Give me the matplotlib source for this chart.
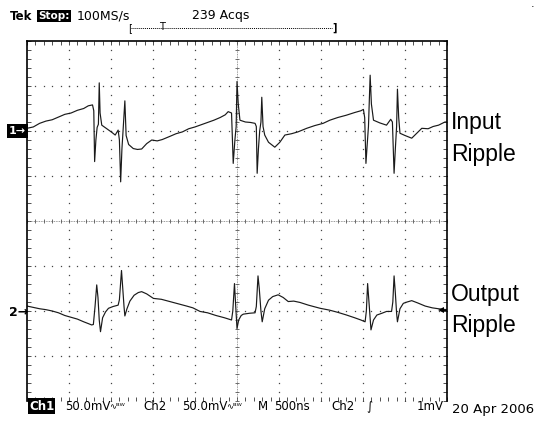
"""
Tek scope capture: input and output ripple, redrawn with matplotlib.
"""

import matplotlib
matplotlib.use("Agg")
import matplotlib.pyplot as plt
from matplotlib import font_manager
from matplotlib.lines import Line2D
import numpy as np


W_PX, H_PX = 537, 421

# screen is 10 x 8 divisions, ch1 ground at +2 div, ch2 ground at -2 div
CH1_OFFSET = 2.0
CH2_OFFSET = -2.0
TRIG_LEVEL = 0.02

# channel 1 (input ripple), time in div, level in div relative to ground
CH1_T = [0.00, 0.15, 0.30, 0.45, 0.60, 0.75, 0.90, 1.05, 1.20, 1.35,
         1.46, 1.56, 1.59, 1.61, 1.64, 1.67, 1.70, 1.72, 1.74, 1.78,
         1.90, 2.02, 2.10, 2.17, 2.20, 2.23, 2.26, 2.29, 2.33, 2.36,
         2.42, 2.53, 2.63, 2.73, 2.85, 2.97, 3.10, 3.22, 3.40, 3.55,
         3.70, 3.85, 4.00, 4.15, 4.30, 4.45, 4.60, 4.72, 4.79, 4.87,
         4.91, 4.95, 4.98, 5.00, 5.03, 5.07, 5.20, 5.32, 5.43, 5.46,
         5.48, 5.51, 5.54, 5.57, 5.59, 5.62, 5.66, 5.75, 5.90, 6.02,
         6.14, 6.30, 6.45, 6.66, 6.85, 7.05, 7.21, 7.40, 7.60, 7.80,
         7.95, 8.01, 8.04, 8.07, 8.10, 8.13, 8.17, 8.20, 8.25, 8.40,
         8.56, 8.66, 8.70, 8.74, 8.77, 8.80, 8.82, 8.85, 8.88, 9.00,
         9.16, 9.28, 9.40, 9.55, 9.67, 9.80, 9.95, 10.0]
CH1_V = [0.06, 0.09, 0.17, 0.22, 0.25, 0.31, 0.37, 0.40, 0.46, 0.50,
         0.56, 0.58, 0.45, -0.68, -0.20, 0.08, 0.15, 1.07, 0.40, 0.13,
         0.05, -0.03, -0.09, 0.02, -0.20, -1.13, -0.40, 0.05, 0.67, -0.10,
         -0.30, -0.39, -0.41, -0.40, -0.28, -0.20, -0.22, -0.19, -0.12, -0.06,
         -0.02, 0.05, 0.09, 0.14, 0.19, 0.24, 0.30, 0.36, 0.43, 0.40,
         -0.72, -0.20, 0.10, 1.10, 0.60, 0.24, 0.20, 0.19, 0.17, 0.10,
         -0.94, -0.40, 0.00, 0.20, 0.75, 0.10, -0.09, -0.25, -0.36, -0.25,
         -0.09, -0.06, -0.02, 0.06, 0.12, 0.17, 0.24, 0.30, 0.35, 0.41,
         0.45, 0.48, 0.30, -0.72, -0.30, 0.10, 1.24, 0.60, 0.24, 0.18,
         0.13, 0.26, 0.20, -0.94, -0.40, 0.10, 0.93, 0.30, -0.05, -0.10,
         -0.16, -0.05, 0.06, 0.05, 0.10, 0.13, 0.20, 0.20]

# channel 2 (output ripple)
CH2_T = [0.00, 0.15, 0.30, 0.45, 0.60, 0.75, 0.90, 1.05, 1.20, 1.35,
         1.46, 1.54, 1.58, 1.62, 1.66, 1.69, 1.72, 1.75, 1.80, 1.87,
         1.94, 2.05, 2.17, 2.20, 2.25, 2.28, 2.31, 2.33, 2.38, 2.45,
         2.55, 2.65, 2.73, 2.85, 3.01, 3.20, 3.40, 3.60, 3.80, 3.95,
         4.12, 4.30, 4.50, 4.70, 4.87, 4.90, 4.94, 4.97, 5.00, 5.04,
         5.10, 5.15, 5.30, 5.43, 5.46, 5.50, 5.53, 5.57, 5.60, 5.66,
         5.75, 5.85, 5.98, 6.10, 6.22, 6.35, 6.50, 6.70, 6.98, 7.20,
         7.40, 7.61, 7.80, 7.95, 8.05, 8.08, 8.11, 8.15, 8.19, 8.25,
         8.33, 8.45, 8.56, 8.68, 8.71, 8.74, 8.77, 8.80, 8.82, 8.88,
         8.96, 9.05, 9.16, 9.30, 9.48, 9.65, 9.87, 10.0]
CH2_V = [0.11, 0.08, 0.05, 0.03, 0.00, -0.04, -0.10, -0.14, -0.18, -0.24,
         -0.28, -0.31, -0.30, 0.10, 0.58, 0.30, -0.20, -0.46, -0.15, -0.02,
         0.06, 0.10, 0.13, 0.25, 0.90, 0.50, 0.10, -0.11, 0.05, 0.22,
         0.35, 0.41, 0.43, 0.38, 0.28, 0.26, 0.21, 0.16, 0.11, 0.07,
         -0.01, -0.04, -0.10, -0.15, -0.20, 0.00, 0.61, 0.10, -0.39, -0.20,
         -0.10, -0.07, -0.05, -0.04, 0.10, 0.78, 0.50, 0.00, -0.24, 0.05,
         0.24, 0.32, 0.36, 0.30, 0.21, 0.22, 0.19, 0.13, 0.06, 0.02,
         -0.03, -0.09, -0.15, -0.20, -0.24, 0.00, 0.61, 0.10, -0.42, -0.20,
         -0.09, -0.05, -0.01, -0.01, 0.20, 0.78, 0.40, -0.05, -0.24, 0.05,
         0.17, 0.20, 0.23, 0.18, 0.11, 0.07, 0.04, 0.03]

TOP_TEXT = ["Tek", "Stop:", "100MS/s", "239 Acqs"]
BOTTOM_TEXT = ["Ch1", "50.0mV", "Ch2", "50.0mV", "M", "500ns", "Ch2", "1mV"]
DATE_TEXT = "20 Apr 2006"
LABELS = [("Input", "Ripple"), ("Output", "Ripple")]


def fx(x):
    return x / W_PX


def fy(y):
    return 1 - y / H_PX


def pick_label_font():
    names = {f.name for f in font_manager.fontManager.ttflist}
    if "Liberation Sans Narrow" in names:
        return "Liberation Sans Narrow", 18
    return "Liberation Sans", 16.5


def draw_grid(ax):
    dot_y = np.arange(-4, 4.01, 0.2)
    dot_x = np.arange(0, 10.01, 0.2)
    for gx in range(1, 10):
        if gx == 5:
            continue
        ax.plot([gx] * len(dot_y), dot_y, ls="none", marker="s", ms=0.9,
                mew=0, color="#444444")
    for gy in range(-3, 4):
        if gy == 0:
            continue
        ax.plot(dot_x, [gy] * len(dot_x), ls="none", marker="s", ms=0.9,
                mew=0, color="#444444")

    # center lines with small ticks
    ax.plot([0, 10], [0, 0], ls=(0, (1, 1)), lw=0.6, color="#777777")
    ax.plot([5, 5], [-4, 4], ls=(0, (1, 1)), lw=0.6, color="#777777")
    ax.plot(dot_x, [0] * len(dot_x), ls="none", marker="|", ms=3.5,
            mew=0.6, color="#555555")
    ax.plot([5] * len(dot_y), dot_y, ls="none", marker="_", ms=3.5,
            mew=0.6, color="#555555")


def main():
    font_name, font_size = pick_label_font()

    fig = plt.figure(figsize=(W_PX / 100, H_PX / 100), dpi=100)
    ax = fig.add_axes([fx(27), 1 - 401 / H_PX, 420 / W_PX, 360 / H_PX])
    ax.set_xlim(0, 10)
    ax.set_ylim(-4, 4)

    draw_grid(ax)

    ch1 = np.array(CH1_V) + CH1_OFFSET
    ch2 = np.array(CH2_V) + CH2_OFFSET
    ax.plot(CH1_T, ch1, color="#1a1a1a", lw=0.85)
    ax.plot(CH2_T, ch2, color="#1a1a1a", lw=0.85)

    # trigger level marker on the right edge
    ax.plot([9.86], [CH2_OFFSET + TRIG_LEVEL], marker="<", ms=5,
            color="black", mew=0)
    ax.plot([9.86, 10], [CH2_OFFSET + TRIG_LEVEL] * 2, color="black", lw=1)

    ax.set_xticks(np.arange(0, 10.01, 1))
    ax.set_xticks(np.arange(0, 10.01, 0.2), minor=True)
    ax.set_yticks(np.arange(-4, 4.01, 1))
    ax.set_yticks(np.arange(-4, 4.01, 0.2), minor=True)
    ax.tick_params(which="both", direction="in", length=3, width=0.6,
                   top=True, right=True, labelbottom=False, labelleft=False,
                   color="#333333")
    for side in ["left", "right", "top"]:
        ax.spines[side].set_linewidth(1.2)
    ax.spines["bottom"].set_visible(False)

    # header line
    mono = "DejaVu Sans"
    fig.text(fx(10), fy(16), TOP_TEXT[0], fontsize=8.5, fontweight="bold",
             family=mono, va="center")
    fig.text(fx(38), fy(16), TOP_TEXT[1], fontsize=7.5, fontweight="bold",
             family=mono, va="center", color="white",
             bbox=dict(boxstyle="square,pad=0.12", fc="black", ec="none"))
    fig.text(fx(77), fy(16), TOP_TEXT[2], fontsize=9, family=mono, va="center")
    fig.text(fx(192), fy(16), TOP_TEXT[3], fontsize=9, family=mono,
             va="center")

    # record bracket with trigger position
    fig.add_artist(Line2D([fx(131), fx(332)], [fy(28), fy(28)],
                          ls=(0, (1, 1)), lw=0.7, color="black"))
    fig.text(fx(128), fy(28), "[", fontsize=7, family=mono, va="center")
    fig.text(fx(332), fy(28), "]", fontsize=7, fontweight="bold",
             family=mono, va="center")
    fig.text(fx(162), fy(27), "T", fontsize=7, family=mono, va="center",
             ha="center")

    fig.text(fx(531), fy(4), ".", fontsize=8, va="center")

    # channel ground markers
    fig.text(fx(9), fy(131), "1\u2192", fontsize=8, fontweight="bold",
             family=mono, va="center", color="white",
             bbox=dict(boxstyle="square,pad=0.15", fc="black", ec="none"))
    fig.text(fx(9), fy(312), "2\u2192", fontsize=9, fontweight="bold",
             family=mono, va="center")

    # status line
    y_bot = fy(406)
    fig.text(fx(29), y_bot, BOTTOM_TEXT[0], fontsize=8.5, fontweight="bold",
             family=mono, va="center", color="white",
             bbox=dict(boxstyle="square,pad=0.1", fc="black", ec="none"))
    fig.text(fx(65), y_bot, BOTTOM_TEXT[1], fontsize=8.5, family=mono,
             va="center")
    fig.text(fx(109), y_bot, "\u223f\u1d2e\u1d42", fontsize=6, family=mono,
             va="center")
    fig.text(fx(143), y_bot, BOTTOM_TEXT[2], fontsize=8.5, family=mono,
             va="center")
    fig.text(fx(182), y_bot, BOTTOM_TEXT[3], fontsize=8.5, family=mono,
             va="center")
    fig.text(fx(226), y_bot, "\u223f\u1d2e\u1d42", fontsize=6, family=mono,
             va="center")
    fig.text(fx(258), y_bot, BOTTOM_TEXT[4], fontsize=8.5, family=mono,
             va="center")
    fig.text(fx(274), y_bot, BOTTOM_TEXT[5], fontsize=8.5, family=mono,
             va="center")
    fig.text(fx(331), y_bot, BOTTOM_TEXT[6], fontsize=8.5, family=mono,
             va="center")
    fig.text(fx(366), y_bot, "\u222b", fontsize=8.5, family=mono, va="center")
    fig.text(fx(444), y_bot, BOTTOM_TEXT[7], fontsize=8.5, family=mono,
             va="center", ha="right")
    fig.text(fx(452), fy(409), DATE_TEXT, fontsize=9.5, family=mono,
             va="center")

    # annotations on the right
    for (first, second), base1, base2 in [(LABELS[0], 129, 161),
                                          (LABELS[1], 301, 332)]:
        fig.text(fx(451), fy(base1), first, family=font_name,
                 fontsize=font_size, va="baseline")
        fig.text(fx(451), fy(base2), second, family=font_name,
                 fontsize=font_size, va="baseline")

    fig.savefig("out.png", dpi=100)
    plt.close(fig)


if __name__ == "__main__":
    main()
